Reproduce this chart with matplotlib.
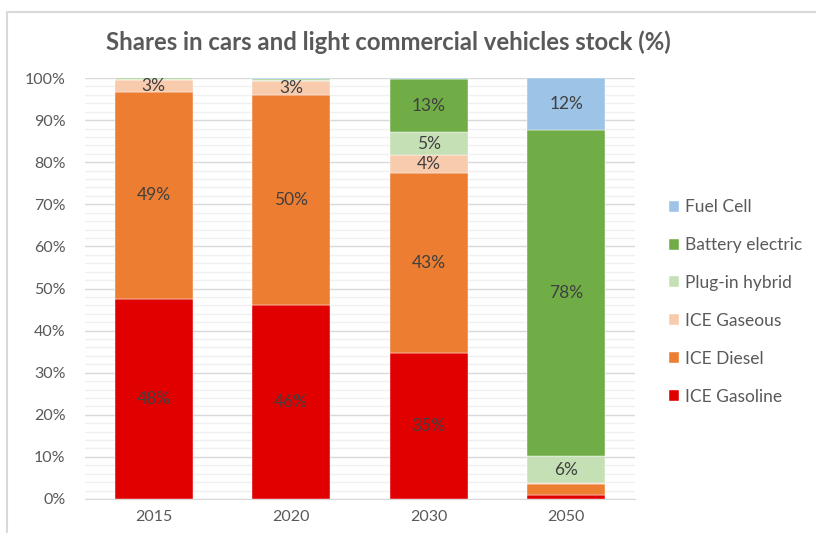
import matplotlib
matplotlib.use("Agg")
import matplotlib.pyplot as plt
from matplotlib.ticker import MultipleLocator, PercentFormatter
from matplotlib.patches import Rectangle
import numpy as np

plt.rcParams['font.family'] = ['Lato', 'DejaVu Sans']

years = ["2015", "2020", "2030", "2050"]
series_names = ["ICE Gasoline", "ICE Diesel", "ICE Gaseous", "Plug-in hybrid", "Battery electric", "Fuel Cell"]
ice_gasoline = [47.6, 46.1, 34.7, 1.0]
ice_diesel = [49.1, 49.9, 42.7, 2.5]
ice_gaseous = [2.9, 3.2, 4.3, 0.3]
plug_in_hybrid = [0.2, 0.3, 5.4, 6.3]
battery_electric = [0.2, 0.3, 12.7, 77.6]
fuel_cell = [0.0, 0.2, 0.2, 12.3]
colors = ["#E00000", "#ED7D31", "#F8CBAD", "#C5E0B4", "#70AD47", "#9DC3E6"]

data = [ice_gasoline, ice_diesel, ice_gaseous, plug_in_hybrid, battery_electric, fuel_cell]

fig = plt.figure(figsize=(8.16, 5.33), dpi=100)
ax = fig.add_axes([85/816, 34/533, 550/816, 421/533])

x = np.arange(len(years))
bottom = np.zeros(len(years))
handles = []
for name, vals, col in zip(series_names, data, colors):
    vals = np.array(vals)
    b = ax.bar(x, vals, bottom=bottom, width=0.57, color=col, label=name, zorder=3,
               edgecolor='white', linewidth=0.3)
    handles.append(b)
    for xi, v, bt in zip(x, vals, bottom):
        if v >= 2.8:
            ax.text(xi, bt + v / 2, f"{round(v):.0f}%", ha='center', va='center',
                    fontsize=12.5, color='#404040', zorder=4)
    bottom += vals

ax.set_ylim(0, 100)
ax.set_xlim(-0.5, 3.5)
ax.yaxis.set_major_locator(MultipleLocator(10))
ax.yaxis.set_minor_locator(MultipleLocator(2))
ax.yaxis.set_major_formatter(PercentFormatter(decimals=0))
ax.grid(axis='y', which='major', color='#D9D9D9', linewidth=1.0, zorder=0)
ax.grid(axis='y', which='minor', color='#F0F0F0', linewidth=1.0, zorder=0)
ax.set_xticks(x)
ax.set_xticklabels(years)
ax.tick_params(axis='both', which='both', length=0, labelsize=11.5, colors='#595959')
ax.tick_params(axis='y', pad=14)
ax.tick_params(axis='x', pad=8)
for s in ['top', 'right', 'left']:
    ax.spines[s].set_visible(False)
ax.spines['bottom'].set_color('#D9D9D9')

leg = fig.legend(handles[::-1], series_names[::-1], loc='center left',
                 bbox_to_anchor=(653/816, (533-302)/533), frameon=False,
                 fontsize=12.5, handlelength=0.6, handleheight=0.6, handletextpad=0.35,
                 labelspacing=1.26, labelcolor='#595959')

fig.text(388/816, (533-42)/533, "Shares in cars and light commercial vehicles stock (%)",
         ha='center', va='center', fontsize=17.2, fontweight='bold', color='#595959')

fig.patches.append(Rectangle((7/816, -0.1), 1.2, (533-12)/533 + 0.1, transform=fig.transFigure,
                             fill=False, edgecolor='#D9D9D9', linewidth=1.5))

fig.savefig("out.png", dpi=100)
